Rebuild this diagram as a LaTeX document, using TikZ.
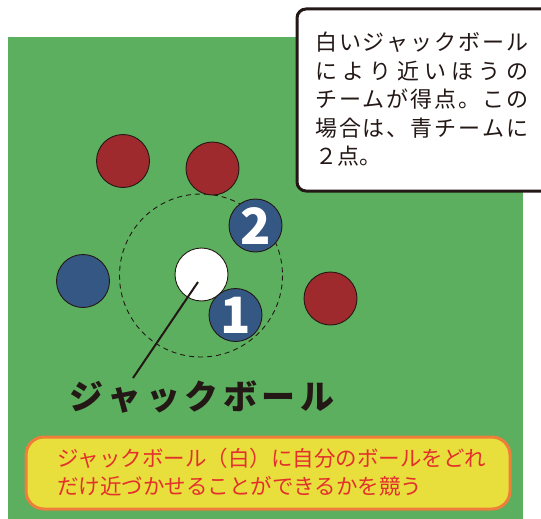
\documentclass[tikz,border=0pt]{standalone}
\usepackage{fontspec}
\newfontfamily\jp{Noto Sans CJK JP}
\definecolor{grass}{HTML}{5BAF5E}
\definecolor{redball}{HTML}{9E2A2E}
\definecolor{blueball}{HTML}{355784}
\definecolor{ink}{HTML}{231815}
\definecolor{yel}{HTML}{E8DF3C}
\definecolor{orng}{HTML}{EE7F3A}
\definecolor{redtxt}{HTML}{E3302C}
\def\spr#1{#1\sprnext}
\def\sprnext#1{\ifx#1\relax\else\hfill#1\expandafter\sprnext\fi}
\tikzset{
  ball/.style={circle, minimum size=53pt, inner sep=0pt, draw=ink, line width=0.9pt},
  redb/.style={ball, fill=redball},
  blueb/.style={ball, fill=blueball, text=white, font=\jp\bfseries\fontsize{50}{50}\selectfont},
  whiteb/.style={ball, fill=white},
  infoline/.style={anchor=west, inner sep=0pt, text=ink, font=\jp\fontsize{22}{22}\selectfont},
  redline/.style={anchor=west, inner sep=0pt, text=redtxt, font=\jp\fontsize{21.5}{21.5}\selectfont},
}
\begin{document}
\begin{tikzpicture}[x=1pt,y=-1pt]
\useasboundingbox (0,0) rectangle (541,519);
% field
\fill[grass] (8,37) rectangle (523,519);
% info box
\draw[ink, line width=3pt, rounded corners=9pt, fill=white] (297,9) rectangle (570,191);
\node[infoline] (t1) at (315,42.5) {\makebox[213pt][l]{\spr 白いジャックボール\relax}};
\node[infoline] (t2) at (315,71) {\makebox[213pt][l]{\spr により近いほうの\relax}};
\node[infoline] (t3) at (315,99.5) {\makebox[213pt][l]{\spr チームが得点。この\relax}};
\node[infoline] (t4) at (315,128) {\makebox[213pt][l]{\spr 場合は、青チームに\relax}};
\node[infoline] (t5) at (315,156.5) {２点。};
% dashed circle
\draw[ink, line width=0.9pt, dash pattern=on 5pt off 4pt] (201,275.5) circle[radius=81.5];
% balls
\node[redb] (r1) at (123,161) {};
\node[redb] (r2) at (212.5,168.5) {};
\node[redb] (r3) at (330.5,298.5) {};
\node[blueb] (b0) at (83,281) {};
\node[whiteb] (jack) at (201.5,274.5) {};
\node[blueb] (b2) at (255.5,225.5) {2};
\node[blueb] (b1) at (235.5,315) {1};
% pointer
\coordinate (tip) at (198,282);
\coordinate (tail) at (133,378);
\draw[ink, line width=2pt] (tip) -- (tail);
% label
\node[anchor=west, inner sep=0pt, text=ink, font=\jp\bfseries\fontsize{34}{34}\selectfont] (lab) at (69,397) {\makebox[265pt][l]{\spr ジャックボール\relax}};
% yellow box
\draw[orng, line width=3pt, rounded corners=18pt, fill=yel] (26,437) rectangle (510,509);
\node[redline] (y1) at (57,458) {ジャックボール（白）に自分のボールをどれ};
\node[redline] (y2) at (57,486) {だけ近づかせることができるかを競う};
\end{tikzpicture}
\end{document}
